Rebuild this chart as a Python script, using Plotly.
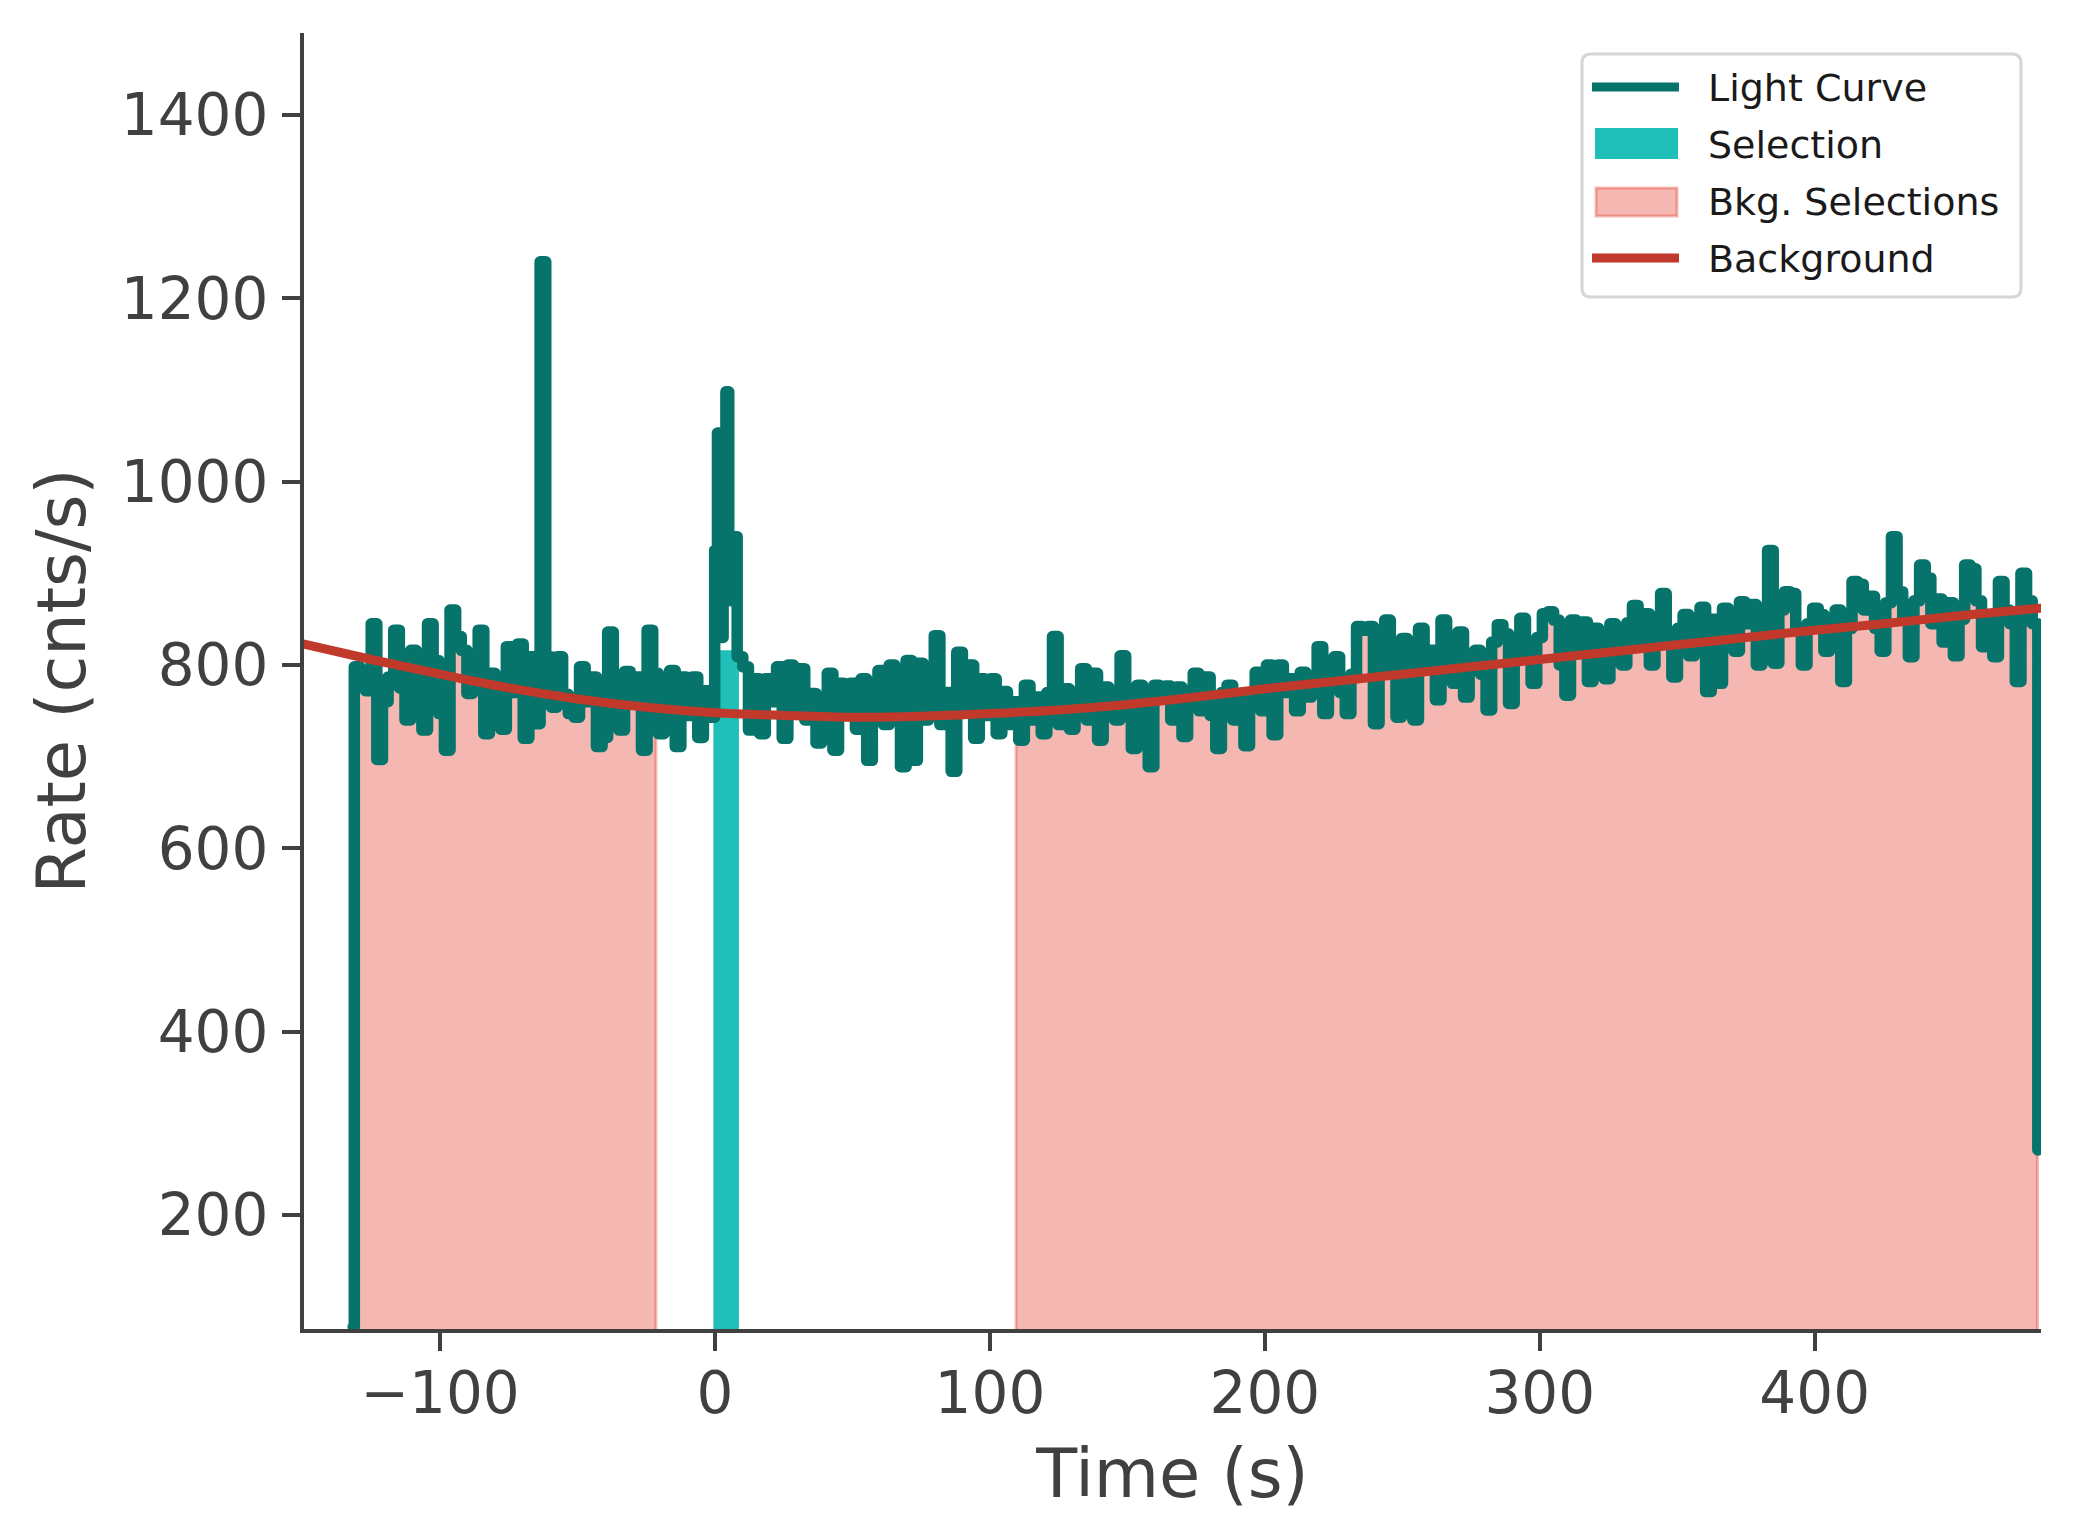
import bisect
import plotly.graph_objects as go

# ---------------- data ----------------
lc_first_time = -131.6
lc_first_rate = 78
lc_bin_start = -131.2
lc_bin_width = 2.048
# 2.048 s bins before the burst
lc_rates_pre = [
    798, 790, 772, 845, 697, 760, 787, 838, 775, 740,
    816, 790, 729, 845, 805, 747, 707, 860, 831, 816,
    769, 790, 838, 725, 791, 758, 730, 820, 770, 823,
    720, 809, 736, 1240, 809, 754, 809, 768, 747, 743,
    798, 760, 787, 711, 721, 836, 780, 729, 793, 760,
    787, 707, 838, 791, 725, 765, 794, 711, 787, 745,
    787, 721, 772, 743,
]
# burst at finer 1.024 s resolution (covers 4 regular bins)
burst_bin_width = 1.024
burst_rates = [925, 1053, 830, 1053, 1098, 940, 870, 940]
# 2.048 s bins after the burst
lc_rates_post = [
    809, 798,
    729, 785, 725, 785, 760, 798, 720, 800, 750, 796,
    740, 769, 715, 760, 791, 707, 780, 745, 780, 730,
    785, 696, 760, 794, 735, 800, 745, 689, 805, 696,
    802, 740, 760, 832, 735, 770, 684, 814, 750, 800,
    720, 785, 745, 785, 725, 771, 735, 760, 718, 778,
    740, 765, 725, 770, 831, 735, 774, 730, 765, 796,
    740, 791, 718, 776, 760, 740, 810, 770, 709, 778,
    760, 689, 778, 765, 777, 740, 776, 722, 765, 791,
    750, 787, 745, 709, 770, 778, 740, 765, 712, 760,
    792, 750, 800, 724, 800, 770, 785, 750, 792, 765,
    780, 820, 747, 780, 809, 770, 747, 790, 842, 838,
    842, 736, 800, 849, 790, 743, 829, 790, 740, 840,
    800, 816, 762, 849, 800, 780, 836, 765, 800, 816,
    790, 751, 825, 844, 834, 758, 810, 851, 820, 780,
    830, 856, 858, 849, 800, 767, 849, 815, 847, 782,
    840, 810, 785, 845, 825, 800, 846, 865, 820, 856,
    800, 835, 878, 825, 787, 840, 855, 810, 845, 863,
    771, 850, 780, 862, 830, 815, 869, 845, 866, 800,
    850, 925, 802, 860, 880, 878, 840, 800, 845, 862,
    855, 815, 840, 860, 782, 840, 891, 888, 860, 875,
    840, 815, 868, 940, 880, 850, 809, 870, 909, 895,
    845, 872, 825, 868, 810, 850, 909, 905, 870, 820,
    850, 809, 891, 860, 845, 782, 900, 870, 845,
]
lc_last_time = 481.15
lc_last_rate = 271

bkg_intervals = [(-131.5, -21.5), (109.5, 481.0)]
src_interval = (-0.6, 8.7)
src_rate = 816

bkg_model_time = [-150, -125, -100, -75, -50, -25, 0, 25, 50, 75, 100, 125, 150,
                  175, 200, 225, 250, 275, 300, 325, 350, 375, 400, 425, 450, 475, 482]
bkg_model_rate = [823, 806, 790, 775, 763, 754, 748, 745, 743, 744, 747, 751, 757,
                  765, 774, 782, 790, 798, 806, 814, 822, 830, 838, 845, 853, 860, 862]

x_ticks = [-100, 0, 100, 200, 300, 400]
y_ticks = [200, 400, 600, 800, 1000, 1200, 1400]
x_title = "Time (s)"
y_title = "Rate (cnts/s)"
legend_labels = ["Light Curve", "Selection", "Bkg. Selections", "Background"]

# ---------------- styles ----------------
W, H = 2073, 1540
L, R, T, B = 304, 32, 33, 211
X_RANGE = [-149.5, 482.3]
Y_RANGE = [75.6, 1489.5]
C_LC = "#06746b"
C_SRC = "#20bfb8"
C_BKG_FILL = "rgba(231,76,60,0.4)"
C_BKG_MODEL = "#c0392b"
C_AXIS = "#404040"
FONT = "DejaVu Sans"

# build light-curve time grid from the binning
n_pre = len(lc_rates_pre)
burst_start = lc_bin_start + n_pre * lc_bin_width
n_burst_regular = round(len(burst_rates) * burst_bin_width / lc_bin_width)
t_pre = [lc_bin_start + i * lc_bin_width for i in range(n_pre)]
t_burst = [burst_start + j * burst_bin_width for j in range(len(burst_rates))]
t_post = [lc_bin_start + (n_pre + n_burst_regular + k) * lc_bin_width for k in range(len(lc_rates_post))]

lc_times = [lc_first_time] + t_pre + t_burst + t_post + [lc_last_time]
lc_values = [lc_first_rate] + lc_rates_pre + burst_rates + lc_rates_post + [lc_last_rate]


def value_at(t):
    k = bisect.bisect_right(lc_times, t) - 1
    k = max(0, min(k, len(lc_values) - 1))
    return lc_values[k]


def step_fill(a, b):
    xs, ys = [a, a], [0, value_at(a)]
    for t, v in zip(lc_times, lc_values):
        if a < t < b:
            xs.append(t)
            ys.append(v)
    xs += [b, b]
    ys += [value_at(b), 0]
    return xs, ys


fig = go.Figure()

for a, b in bkg_intervals:
    xs, ys = step_fill(a, b)
    fig.add_trace(go.Scatter(x=xs, y=ys, mode="lines", line=dict(shape="hv", color=C_BKG_FILL, width=3),
                             fill="tozeroy", fillcolor=C_BKG_FILL, hoverinfo="skip", name=legend_labels[2]))

fig.add_trace(go.Scatter(x=[src_interval[0], src_interval[0], src_interval[1], src_interval[1]],
                         y=[0, src_rate, src_rate, 0], mode="lines", line=dict(width=0, color=C_SRC),
                         fill="toself", fillcolor=C_SRC, name=legend_labels[1]))

fig.add_trace(go.Scatter(x=lc_times, y=lc_values, mode="lines",
                         line=dict(shape="hv", color=C_LC, width=11.5), name=legend_labels[0]))

fig.add_trace(go.Scatter(x=bkg_model_time, y=bkg_model_rate, mode="lines",
                         line=dict(shape="spline", color=C_BKG_MODEL, width=9), name=legend_labels[3]))

axis_common = dict(showgrid=False, zeroline=False, showline=True, linewidth=4, linecolor=C_AXIS,
                   ticks="outside", ticklen=18, tickwidth=4, tickcolor=C_AXIS,
                   tickfont=dict(family=FONT, size=58, color=C_AXIS))

fig.update_layout(
    width=W, height=H,
    margin=dict(l=L, r=R, t=T, b=B, pad=0),
    plot_bgcolor="white", paper_bgcolor="white",
    showlegend=False,
    font=dict(family=FONT, color=C_AXIS),
    xaxis=dict(range=X_RANGE, tickvals=x_ticks, ticklabelstandoff=-8,
               title=dict(text=x_title, font=dict(family=FONT, size=67, color=C_AXIS), standoff=26),
               **axis_common),
    yaxis=dict(range=Y_RANGE, tickvals=y_ticks, ticklabelstandoff=2,
               title=dict(text=y_title, font=dict(family=FONT, size=67, color=C_AXIS), standoff=14),
               **axis_common),
)

# ---------------- custom legend (pixel layout) ----------------
PW, PH = W - L - R, H - T - B


def px(x):
    return (x - L) / PW


def py(y):
    return (H - B - y) / PH


def rounded_rect(x0, y0, x1, y1, r):
    pts = (f"M {px(x0 + r)} {py(y0)} L {px(x1 - r)} {py(y0)} Q {px(x1)} {py(y0)} {px(x1)} {py(y0 + r)} "
           f"L {px(x1)} {py(y1 - r)} Q {px(x1)} {py(y1)} {px(x1 - r)} {py(y1)} "
           f"L {px(x0 + r)} {py(y1)} Q {px(x0)} {py(y1)} {px(x0)} {py(y1 - r)} "
           f"L {px(x0)} {py(y0 + r)} Q {px(x0)} {py(y0)} {px(x0 + r)} {py(y0)} Z")
    return pts


shapes = [
    dict(type="path", xref="paper", yref="paper", path=rounded_rect(1582, 54, 2021, 297, 9),
         fillcolor="rgba(255,255,255,0.85)", line=dict(color="#d6d6d6", width=3), layer="above"),
    dict(type="line", xref="paper", yref="paper", x0=px(1592), x1=px(1679), y0=py(87), y1=py(87),
         line=dict(color=C_LC, width=9), layer="above"),
    dict(type="rect", xref="paper", yref="paper", x0=px(1595), x1=px(1678), y0=py(128), y1=py(159),
         fillcolor=C_SRC, line=dict(width=0), layer="above"),
    dict(type="rect", xref="paper", yref="paper", x0=px(1596), x1=px(1677), y0=py(188), y1=py(216),
         fillcolor=C_BKG_FILL, line=dict(color=C_BKG_FILL, width=3), layer="above"),
    dict(type="line", xref="paper", yref="paper", x0=px(1592), x1=px(1679), y0=py(258), y1=py(258),
         line=dict(color=C_BKG_MODEL, width=9), layer="above"),
]
annotations = []
for label, yc in zip(legend_labels, [88, 145, 202, 259]):
    annotations.append(dict(xref="paper", yref="paper", x=px(1706), y=py(yc), text=label, showarrow=False,
                            xanchor="left", yanchor="middle", font=dict(family=FONT, size=38, color="#1a1a1a")))

fig.update_layout(shapes=shapes, annotations=annotations)

round_joins = ("document.querySelectorAll('.scatterlayer .js-line').forEach(function(p){"
               "p.style.strokeLinejoin='round';p.style.strokeLinecap='round';});")
fig.write_html("out.html", post_script=round_joins)
